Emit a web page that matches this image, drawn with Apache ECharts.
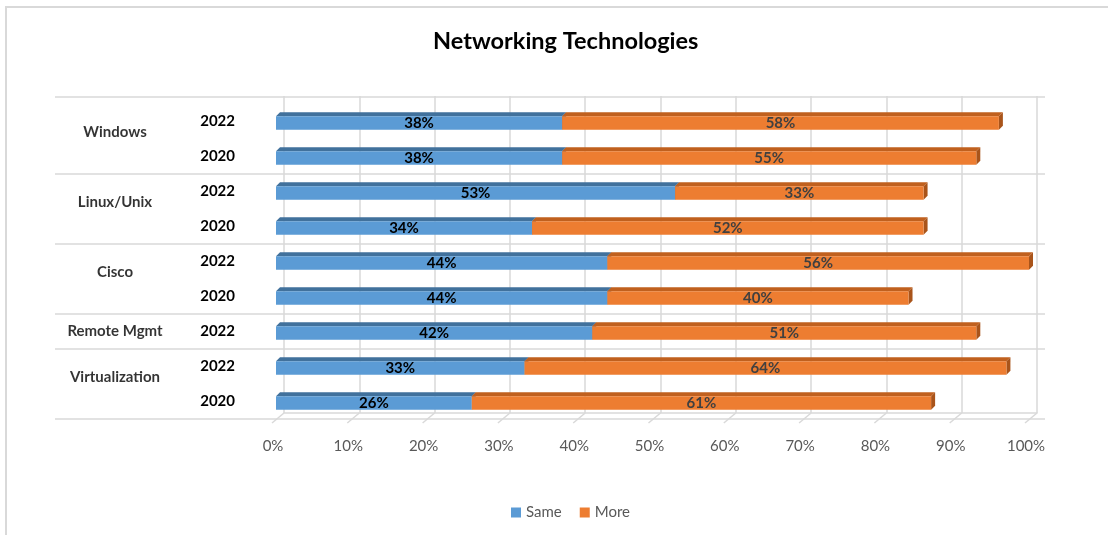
<!DOCTYPE html>
<html>
<head>
<meta charset="utf-8">
<script src="https://cdn.jsdelivr.net/npm/echarts@6/dist/echarts.min.js"></script>
<style>
  html, body { margin: 0; padding: 0; background: #fff; }
  #wrap { position: relative; width: 1108px; height: 535px; overflow: hidden; }
  #frame { position: absolute; left: 5px; top: 6px; width: 1200px; height: 600px; border-top: 2px solid #d9d9d9; border-left: 2px solid #d9d9d9; }
  #chart { position: absolute; left: 0; top: 0; width: 1108px; height: 535px; }
</style>
</head>
<body>
<div id="wrap"><div id="frame"></div><div id="chart"></div></div>
<script>
// ---- data ----
const groups = ['Windows', 'Linux/Unix', 'Cisco', 'Remote Mgmt', 'Virtualization'];
const groupSizes = [2, 2, 2, 1, 2];
const years = ['2022', '2020', '2022', '2020', '2022', '2020', '2022', '2022', '2020'];
const same = [38, 38, 53, 34, 44, 44, 42, 33, 26];
const more = [58, 55, 33, 52, 56, 40, 51, 64, 61];
const xTicks = [0, 10, 20, 30, 40, 50, 60, 70, 80, 90, 100];
const seriesNames = ['Same', 'More'];

// ---- derived ----
const sameData = same.map((v, i) => [i, 0, v, v]);
const moreData = more.map((v, i) => [i, same[i], same[i] + v, v]);
const bounds = [0];
groupSizes.forEach(s => bounds.push(bounds[bounds.length - 1] + s));
const groupMids = groups.map((g, k) => [0.5, (bounds[k] + bounds[k + 1]) / 2 - 0.18 * (groupSizes[k] - 1), g]);

const D = 4; // 3D depth in px
function bar3D(face, top, side, labelColor) {
  return function (params, api) {
    const i = api.value(0);
    const p0 = api.coord([api.value(1), i]);
    const p1 = api.coord([api.value(2), i]);
    const h = api.size([0, 1])[1] * 0.39;
    const yt = p0[1] - h / 2 + 2;
    const yb = yt + h;
    const x0 = p0[0], x1 = p1[0];
    return {
      type: 'group',
      children: [
        { type: 'polygon', shape: { points: [[x0, yt], [x0 + D, yt - D], [x1 + D, yt - D], [x1, yt]] }, style: { fill: top } },
        { type: 'polygon', shape: { points: [[x1, yt], [x1 + D, yt - D], [x1 + D, yb - D], [x1, yb]] }, style: { fill: side } },
        { type: 'rect', shape: { x: x0, y: yt, width: x1 - x0, height: h }, style: { fill: face } },
        { type: 'text', x: (x0 + x1) / 2, y: (yt + yb) / 2 + 0.5,
          style: { text: api.value(3) + '%', align: 'center', verticalAlign: 'middle',
                   fill: labelColor, font: 'bold 15px Lato, sans-serif' } }
      ]
    };
  };
}

const chart = echarts.init(document.getElementById('chart'), null, { renderer: 'canvas' });
const FONT = 'Lato, "Liberation Sans", sans-serif';
chart.setOption({
  backgroundColor: 'transparent',
  animation: false,
  title: {
    text: 'Networking Technologies', left: 428, top: 24,
    textStyle: { fontFamily: FONT, fontWeight: 'bold', fontSize: 23.5, color: '#000' }
  },
  legend: {
    bottom: 10, left: 506, itemWidth: 10, itemHeight: 10, itemGap: 18, icon: 'rect',
    data: seriesNames,
    textStyle: { fontFamily: FONT, fontSize: 15, color: '#595959' }
  },
  grid: [
    { left: 284, top: 96, width: 753, height: 317 },       // back wall
    { left: 276, top: 103.5, width: 753, height: 315 },    // bars
    { left: 55, top: 96.5, width: 990, height: 322 },      // separators
    { left: 55, top: 103.5, width: 120, height: 315 }      // group labels
  ],
  xAxis: [
    { gridIndex: 0, type: 'value', min: 0, max: 100, interval: 10,
      axisLine: { show: true, lineStyle: { color: '#d9d9d9', width: 1.5 } }, axisTick: { show: false }, axisLabel: { show: false },
      splitLine: { show: true, lineStyle: { color: '#d9d9d9', width: 1.5 } } },
    { gridIndex: 1, type: 'value', min: 0, max: 100, interval: 10,
      axisLine: { show: false }, axisTick: { show: false }, splitLine: { show: false },
      axisLabel: { margin: 20, formatter: '{value}%', color: '#595959', fontFamily: FONT, fontSize: 15,
                   padding: [0, 6, 0, 0] } },
    { gridIndex: 2, type: 'value', min: 0, max: 1, show: false },
    { gridIndex: 3, type: 'value', min: 0, max: 1, show: false }
  ],
  yAxis: [
    { gridIndex: 0, type: 'value', min: 0, max: 1, show: false },
    { gridIndex: 1, type: 'category', data: years, inverse: true,
      axisLine: { show: false }, axisTick: { show: false }, splitLine: { show: false },
      axisLabel: { margin: 41, color: '#000', fontFamily: FONT, fontWeight: 'bold', fontSize: 15 } },
    { gridIndex: 2, type: 'value', min: -0.2, max: 9, inverse: true, show: false },
    { gridIndex: 3, type: 'value', min: 0, max: 9, inverse: true, show: false }
  ],
  series: [
    { type: 'custom', name: 'floorTicks', xAxisIndex: 0, yAxisIndex: 0, silent: true,
      data: xTicks.map(t => [t]),
      renderItem: function (params, api) {
        const p = api.coord([api.value(0), 0]);
        return { type: 'line', shape: { x1: p[0], y1: p[1], x2: p[0] - 12, y2: p[1] + 10 },
                 style: { stroke: '#d9d9d9', lineWidth: 1.5 } };
      } },
    { type: 'custom', name: 'Same', xAxisIndex: 1, yAxisIndex: 1,
      itemStyle: { color: '#5B9BD5' }, encode: { x: [1, 2], y: 0 },
      data: sameData, renderItem: bar3D('#5B9BD5', '#41719C', '#41719C', '#000') },
    { type: 'custom', name: 'More', xAxisIndex: 1, yAxisIndex: 1,
      itemStyle: { color: '#ED7D31' }, encode: { x: [1, 2], y: 0 },
      data: moreData, renderItem: bar3D('#ED7D31', '#C0601E', '#A9541A', '#404040') },
    { type: 'line', name: 'sep', xAxisIndex: 2, yAxisIndex: 2, data: [], silent: true,
      markLine: { symbol: 'none', silent: true, label: { show: false },
        lineStyle: { type: 'solid', color: '#d9d9d9', width: 1.5 },
        data: bounds.map(b => ({ yAxis: b === 0 ? -0.2 : b })) } },
    { type: 'scatter', name: 'groups', xAxisIndex: 3, yAxisIndex: 3, symbolSize: 0, silent: true,
      data: groupMids,
      label: { show: true, position: 'inside', formatter: p => p.data[2],
               color: '#000', fontFamily: FONT, fontWeight: 'bold', fontSize: 15 } }
  ]
});
</script>
</body>
</html>
